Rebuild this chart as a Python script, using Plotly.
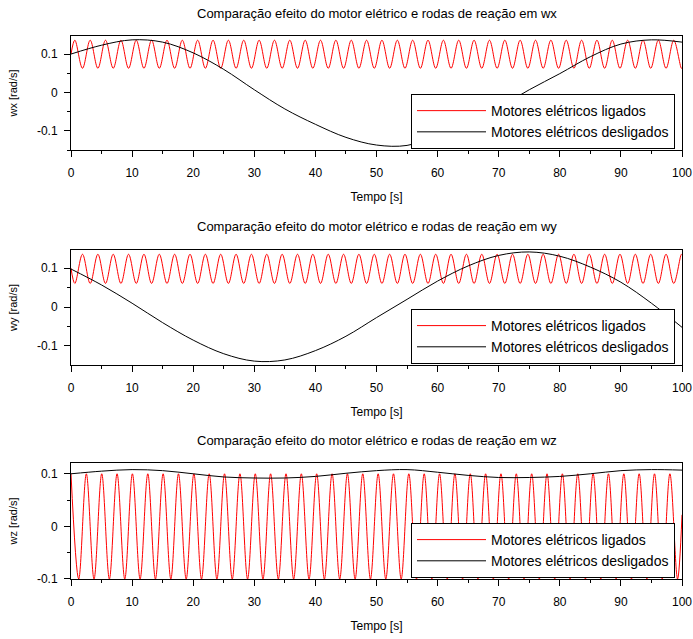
import plotly.graph_objects as go

FONT = "Liberation Sans, Arial, sans-serif"

# ---------------- data ----------------
# slow curves (motors off), sampled every 5 s
t_off = [0, 5, 10, 15, 20, 25, 30, 35, 40, 45, 50,
         55, 60, 65, 70, 75, 80, 85, 90, 95, 100]
wx_off = [0.100, 0.123, 0.137, 0.131, 0.103, 0.060, 0.007, -0.043, -0.083, -0.117, -0.137,
          -0.138, -0.112, -0.080, -0.039, 0.007, 0.049, 0.093, 0.126, 0.137, 0.131]
wy_off = [0.098, 0.057, 0.010, -0.040, -0.085, -0.120, -0.139, -0.136, -0.112, -0.075, -0.027,
          0.020, 0.067, 0.106, 0.133, 0.142, 0.131, 0.103, 0.064, 0.010, -0.052]
wz_off = [0.100, 0.105, 0.108, 0.106, 0.100, 0.094, 0.092, 0.092, 0.095, 0.101, 0.106,
          0.108, 0.103, 0.097, 0.093, 0.093, 0.095, 0.100, 0.106, 0.108, 0.107]

# fast oscillation (motors on): start, every peak / trough, end  (wx, wy)
t_on_xy = [0.00,
           0.63, 1.88, 3.14, 4.40, 5.65, 6.91, 8.17, 9.42, 10.68, 11.94,
           13.19, 14.45, 15.71, 16.96, 18.22, 19.48, 20.73, 21.99, 23.25, 24.50,
           25.76, 27.02, 28.27, 29.53, 30.79, 32.04, 33.30, 34.56, 35.81, 37.07,
           38.33, 39.58, 40.84, 42.10, 43.35, 44.61, 45.87, 47.12, 48.38, 49.64,
           50.89, 52.15, 53.41, 54.66, 55.92, 57.18, 58.43, 59.69, 60.95, 62.20,
           63.46, 64.72, 65.97, 67.23, 68.49, 69.74, 71.00, 72.26, 73.51, 74.77,
           76.03, 77.28, 78.54, 79.80, 81.05, 82.31, 83.57, 84.82, 86.08, 87.34,
           88.59, 89.85, 91.11, 92.36, 93.62, 94.88, 96.13, 97.39, 98.65, 99.90,
           100.00]
wx_on = [0.100,
         0.136, 0.063, 0.136, 0.063, 0.136, 0.063, 0.136, 0.063, 0.136, 0.063,
         0.136, 0.063, 0.136, 0.063, 0.136, 0.063, 0.136, 0.063, 0.136, 0.063,
         0.136, 0.063, 0.136, 0.063, 0.136, 0.063, 0.136, 0.063, 0.136, 0.063,
         0.136, 0.063, 0.136, 0.063, 0.136, 0.063, 0.136, 0.063, 0.136, 0.063,
         0.136, 0.063, 0.136, 0.063, 0.136, 0.063, 0.136, 0.063, 0.136, 0.063,
         0.136, 0.063, 0.136, 0.063, 0.136, 0.063, 0.136, 0.063, 0.136, 0.063,
         0.136, 0.063, 0.136, 0.063, 0.136, 0.063, 0.136, 0.063, 0.136, 0.063,
         0.136, 0.063, 0.136, 0.063, 0.136, 0.063, 0.136, 0.063, 0.136, 0.063,
         0.064]
wy_on = [0.100,
         0.061, 0.136, 0.061, 0.136, 0.061, 0.136, 0.061, 0.136, 0.061, 0.136,
         0.061, 0.136, 0.061, 0.136, 0.061, 0.136, 0.061, 0.136, 0.061, 0.136,
         0.061, 0.136, 0.061, 0.136, 0.061, 0.136, 0.061, 0.136, 0.061, 0.136,
         0.061, 0.136, 0.061, 0.136, 0.061, 0.136, 0.061, 0.136, 0.061, 0.136,
         0.061, 0.136, 0.061, 0.136, 0.061, 0.136, 0.061, 0.136, 0.061, 0.136,
         0.061, 0.136, 0.061, 0.136, 0.061, 0.136, 0.061, 0.136, 0.061, 0.136,
         0.061, 0.136, 0.061, 0.136, 0.061, 0.136, 0.061, 0.136, 0.061, 0.136,
         0.061, 0.136, 0.061, 0.136, 0.061, 0.136, 0.061, 0.136, 0.061, 0.136,
         0.135]

# wz (motors on): every peak / trough, end
t_on_z = [0.00, 1.26, 2.51, 3.77, 5.03, 6.28, 7.54, 8.80, 10.05, 11.31,
          12.57, 13.82, 15.08, 16.34, 17.59, 18.85, 20.11, 21.36, 22.62, 23.88,
          25.13, 26.39, 27.65, 28.90, 30.16, 31.42, 32.67, 33.93, 35.19, 36.44,
          37.70, 38.96, 40.21, 41.47, 42.73, 43.98, 45.24, 46.50, 47.75, 49.01,
          50.27, 51.52, 52.78, 54.04, 55.29, 56.55, 57.81, 59.06, 60.32, 61.58,
          62.83, 64.09, 65.35, 66.60, 67.86, 69.12, 70.37, 71.63, 72.88, 74.14,
          75.40, 76.65, 77.91, 79.17, 80.42, 81.68, 82.94, 84.19, 85.45, 86.71,
          87.96, 89.22, 90.48, 91.73, 92.99, 94.25, 95.50, 96.76, 98.02, 99.27,
          100.00]
wz_on = [0.100, -0.100, 0.100, -0.100, 0.100, -0.100, 0.100, -0.100, 0.100, -0.100,
         0.100, -0.100, 0.100, -0.100, 0.100, -0.100, 0.100, -0.100, 0.100, -0.100,
         0.100, -0.100, 0.100, -0.100, 0.100, -0.100, 0.100, -0.100, 0.100, -0.100,
         0.100, -0.100, 0.100, -0.100, 0.100, -0.100, 0.100, -0.100, 0.100, -0.100,
         0.100, -0.100, 0.100, -0.100, 0.100, -0.100, 0.100, -0.100, 0.100, -0.100,
         0.100, -0.100, 0.100, -0.100, 0.100, -0.100, 0.100, -0.100, 0.100, -0.100,
         0.100, -0.100, 0.100, -0.100, 0.100, -0.100, 0.100, -0.100, 0.100, -0.100,
         0.100, -0.100, 0.100, -0.100, 0.100, -0.100, 0.100, -0.100, 0.100, -0.100,
         0.022]

x_ticks = [0, 10, 20, 30, 40, 50, 60, 70, 80, 90, 100]
x_tick_text = ["0", "10", "20", "30", "40", "50", "60", "70", "80", "90", "100"]
x_minor = [5, 15, 25, 35, 45, 55, 65, 75, 85, 95]
y_ticks = [-0.1, 0.0, 0.1]
y_tick_text = ["-0.1", "0", "0.1"]
y_minor = [-0.15, -0.05, 0.05]

titles = ["Comparação efeito do motor elétrico e rodas de reação em wx",
          "Comparação efeito do motor elétrico e rodas de reação em wy",
          "Comparação efeito do motor elétrico e rodas de reação em wz"]
y_titles = ["wx [rad/s]", "wy [rad/s]", "wz [rad/s]"]
x_title = "Tempo [s]"
name_on = "Motores elétricos ligados"
name_off = "Motores elétricos desligados"

# ---------------- figure ----------------
W, H = 693, 639
ML, MR, MT, MB = 71, 11, 36, 60
domains = [[0.7900, 1.0], [0.3941, 0.6059], [0.0, 0.2136]]
y_ranges = [[-0.150, 0.147], [-0.149, 0.147], [-0.100, 0.1205]]

series = [(t_on_xy, wx_on, t_off, wx_off),
          (t_on_xy, wy_on, t_off, wy_off),
          (t_on_z, wz_on, t_off, wz_off)]

fig = go.Figure()
legend_ids = ["legend", "legend2", "legend3"]
for i, (tr, vr, tb, vb) in enumerate(series):
    sfx = "" if i == 0 else str(i + 1)
    fig.add_trace(go.Scatter(x=tr, y=vr, mode="lines", name=name_on,
                             line=dict(color="#ff0000", width=1, shape="spline", smoothing=1.0),
                             xaxis="x" + sfx, yaxis="y" + sfx, legend=legend_ids[i]))
    fig.add_trace(go.Scatter(x=tb, y=vb, mode="lines", name=name_off,
                             line=dict(color="#000000", width=1, shape="spline", smoothing=1.0),
                             xaxis="x" + sfx, yaxis="y" + sfx, legend=legend_ids[i]))

axis_common = dict(showline=True, linecolor="black", linewidth=1, mirror=True,
                   ticks="outside", ticklen=6, tickwidth=1, tickcolor="black",
                   showgrid=False, zeroline=False, automargin=False,
                   tickfont=dict(size=12, color="black", family=FONT))

layout = dict(width=W, height=H, margin=dict(l=ML, r=MR, t=MT, b=MB, autoexpand=False),
              paper_bgcolor="white", plot_bgcolor="white",
              font=dict(family=FONT, color="black"), annotations=[])

for i in range(3):
    sfx = "" if i == 0 else str(i + 1)
    layout["xaxis" + sfx] = dict(axis_common, domain=[0, 1], anchor="y" + sfx,
                                 range=[0, 100], tickmode="array", tickvals=x_ticks,
                                 ticktext=x_tick_text, ticklabelstandoff=6,
                                 minor=dict(tickmode="array", tickvals=x_minor, ticks="outside",
                                            ticklen=3, tickcolor="black"),
                                 title=dict(text=x_title, font=dict(size=12, family=FONT),
                                            standoff=13))
    layout["yaxis" + sfx] = dict(axis_common, domain=domains[i], anchor="x" + sfx,
                                 range=y_ranges[i], tickmode="array", tickvals=y_ticks,
                                 ticktext=y_tick_text, ticklabelstandoff=4,
                                 minor=dict(tickmode="array", tickvals=y_minor, ticks="outside",
                                            ticklen=3, tickcolor="black"),
                                 title=dict(text=y_titles[i], font=dict(size=11, family=FONT),
                                            standoff=17))
    layout["annotations"].append(dict(text=titles[i], xref="paper", yref="paper",
                                      x=0.5, y=domains[i][1], xanchor="center", yanchor="middle",
                                      yshift=23, showarrow=False,
                                      font=dict(size=13, family=FONT, color="black")))
    layout[legend_ids[i]] = dict(x=(675 - ML) / (W - ML - MR), xanchor="right",
                                 y=domains[i][0] + 1.0 / (H - MT - MB), yanchor="bottom",
                                 bgcolor="white", bordercolor="black", borderwidth=1,
                                 font=dict(size=14, color="black", family=FONT),
                                 itemwidth=69, tracegroupgap=0, traceorder="normal",
                                 entrywidth=190, entrywidthmode="pixels")

fig.update_layout(**layout)
fig.write_html("out.html")
